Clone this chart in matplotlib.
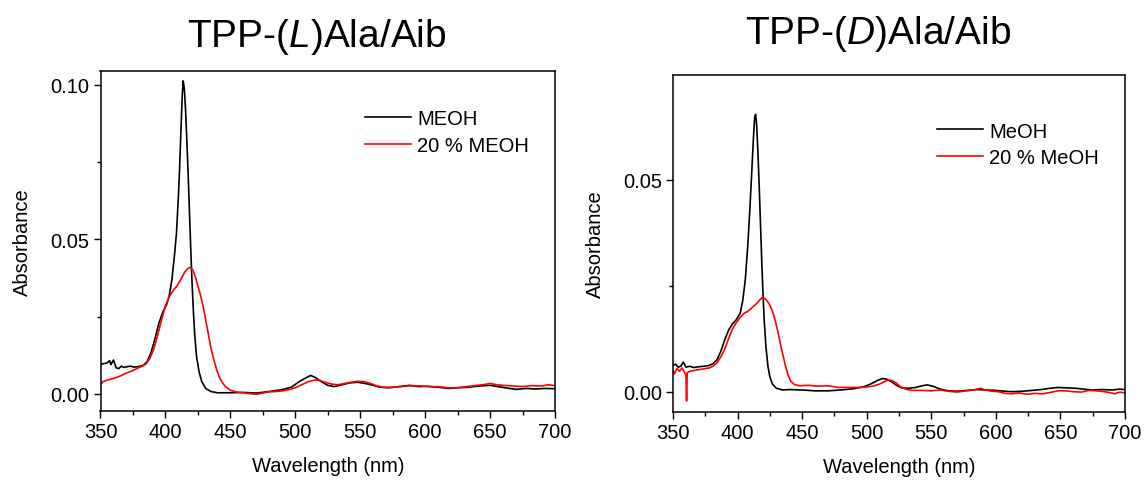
import matplotlib
matplotlib.use("Agg")
import matplotlib.pyplot as plt
from matplotlib.ticker import MultipleLocator

plt.rcParams["font.family"] = ["Liberation Sans", "DejaVu Sans"]
plt.rcParams["mathtext.fontset"] = "custom"
plt.rcParams["mathtext.rm"] = "Liberation Sans"
plt.rcParams["mathtext.it"] = "Liberation Sans:italic"

# Left panel: TPP-(L)Ala/Aib
wl_L_meoh = [350, 352, 355, 357, 358, 360, 362, 364, 366, 368, 370, 373, 376, 380, 383, 386, 389, 392,
             395, 398, 401, 403, 405, 407, 408.5, 410, 411, 412, 413, 413.7, 414.5, 415.5, 416.5, 417.5,
             418.5, 419.5, 420.5, 421.5, 422.5, 424, 426, 428, 431, 435, 440, 450, 460, 470, 480, 490,
             497, 503, 508, 512, 516, 520, 525, 530, 536, 542, 548, 554, 560, 565, 572, 580, 588, 595,
             602, 610, 618, 625, 633, 642, 650, 656, 662, 670, 678, 685, 692, 700]
abs_L_meoh = [0.0095, 0.0098, 0.0100, 0.0108, 0.0095, 0.0110, 0.0085, 0.0082, 0.0090, 0.0086, 0.0088,
              0.0090, 0.0087, 0.0089, 0.0093, 0.0105, 0.0135, 0.0180, 0.0230, 0.0265, 0.0290, 0.0320,
              0.0370, 0.0450, 0.0520, 0.0640, 0.0740, 0.0860, 0.0970, 0.1013, 0.0990, 0.0920, 0.0820,
              0.0710, 0.0590, 0.0470, 0.0360, 0.0270, 0.0195, 0.0120, 0.0070, 0.0040, 0.0018, 0.0008,
              0.0004, 0.0004, 0.0005, 0.0003, 0.0008, 0.0014, 0.0022, 0.0040, 0.0052, 0.0060, 0.0052,
              0.0040, 0.0028, 0.0024, 0.0030, 0.0036, 0.0038, 0.0034, 0.0028, 0.0022, 0.0020, 0.0024,
              0.0028, 0.0024, 0.0025, 0.0022, 0.0018, 0.0020, 0.0022, 0.0026, 0.0028, 0.0024, 0.0020,
              0.0015, 0.0018, 0.0016, 0.0018, 0.0017]

wl_L_20 = [350, 352, 355, 358, 361, 364, 367, 370, 374, 378, 382, 385, 388, 391, 394, 397, 400, 403,
           406, 409, 412, 415, 417, 419, 421, 423, 425, 427, 429, 431, 433, 435, 437, 439, 441, 443,
           446, 450, 455, 460, 465, 470, 475, 480, 485, 490, 495, 500, 505, 510, 515, 519, 523, 528,
           533, 538, 543, 548, 553, 558, 563, 568, 575, 582, 590, 597, 604, 610, 617, 624, 632, 640,
           646, 650, 655, 660, 668, 675, 682, 690, 695, 700]
abs_L_20 = [0.0030, 0.0040, 0.0045, 0.0048, 0.0052, 0.0056, 0.0062, 0.0068, 0.0074, 0.0082, 0.0090,
            0.0097, 0.0115, 0.0145, 0.0190, 0.0240, 0.0285, 0.0315, 0.0335, 0.0350, 0.0372, 0.0395,
            0.0405, 0.0410, 0.0402, 0.0380, 0.0350, 0.0320, 0.0285, 0.0240, 0.0195, 0.0150, 0.0115,
            0.0085, 0.0060, 0.0042, 0.0025, 0.0012, 0.0006, 0.0004, 0.0001, -0.0001, 0.0003, 0.0007,
            0.0008, 0.0010, 0.0014, 0.0020, 0.0030, 0.0040, 0.0045, 0.0044, 0.0038, 0.0032, 0.0030,
            0.0034, 0.0038, 0.0041, 0.0040, 0.0034, 0.0026, 0.0022, 0.0022, 0.0024, 0.0027, 0.0026,
            0.0023, 0.0024, 0.0020, 0.0020, 0.0024, 0.0028, 0.0031, 0.0034, 0.0030, 0.0028, 0.0026,
            0.0024, 0.0027, 0.0026, 0.0030, 0.0027]

# Right panel: TPP-(D)Ala/Aib
wl_D_meoh = [350, 352, 354, 356, 358, 360, 363, 366, 370, 374, 378, 381, 384, 387, 390, 393, 396, 399,
             402, 404, 406, 408, 409.5, 411, 412.3, 413.3, 414, 414.8, 415.7, 416.7, 417.7, 418.7,
             419.7, 420.7, 422, 423.5, 425, 427, 430, 435, 440, 450, 460, 470, 480, 490, 498, 503,
             508, 512, 515, 519, 523, 527, 532, 538, 543, 547, 552, 557, 563, 570, 578, 585, 592, 600,
             607, 613, 620, 628, 635, 642, 648, 655, 662, 668, 675, 682, 690, 696, 700]
abs_D_meoh = [0.0062, 0.0065, 0.0058, 0.0060, 0.0070, 0.0058, 0.0060, 0.0057, 0.0059, 0.0060, 0.0062,
              0.0066, 0.0075, 0.0095, 0.0122, 0.0145, 0.0160, 0.0170, 0.0185, 0.0215, 0.0265, 0.0350,
              0.0430, 0.0520, 0.0600, 0.0650, 0.0655, 0.0630, 0.0570, 0.0490, 0.0400, 0.0310, 0.0230,
              0.0165, 0.0105, 0.0060, 0.0035, 0.0018, 0.0008, 0.0004, 0.0005, 0.0004, 0.0002, 0.0002,
              0.0004, 0.0007, 0.0012, 0.0018, 0.0026, 0.0031, 0.0030, 0.0024, 0.0015, 0.0009, 0.0008,
              0.0010, 0.0014, 0.0016, 0.0012, 0.0006, 0.0002, 0.0001, 0.0003, 0.0005, 0.0004, 0.0003,
              0.0001, 0.0000, 0.0001, 0.0003, 0.0005, 0.0008, 0.0010, 0.0009, 0.0008, 0.0006, 0.0004,
              0.0005, 0.0004, 0.0006, 0.0005]

wl_D_20 = [350, 351, 353, 355, 357, 359, 360, 360.5, 361, 363, 366, 370, 374, 378, 381, 384, 387, 390,
           393, 396, 399, 402, 405, 408, 411, 414, 417, 419, 421, 423, 425, 427, 429, 431, 433, 435,
           437, 439, 441, 444, 448, 455, 462, 470, 478, 486, 494, 500, 505, 510, 514, 517, 520, 523,
           526, 530, 535, 542, 550, 557, 563, 570, 577, 583, 588, 592, 597, 602, 607, 612, 618, 624,
           630, 636, 642, 648, 654, 660, 666, 672, 678, 684, 688, 692, 696, 700]
abs_D_20 = [0.0050, 0.0042, 0.0055, 0.0048, 0.0056, 0.0045, 0.0040, -0.0022, 0.0045, 0.0048, 0.0050,
            0.0052, 0.0054, 0.0056, 0.0060, 0.0068, 0.0082, 0.0100, 0.0125, 0.0148, 0.0163, 0.0175,
            0.0185, 0.0190, 0.0198, 0.0206, 0.0216, 0.0222, 0.0220, 0.0214, 0.0204, 0.0190, 0.0170,
            0.0145, 0.0115, 0.0088, 0.0062, 0.0040, 0.0025, 0.0017, 0.0014, 0.0015, 0.0013, 0.0014,
            0.0010, 0.0010, 0.0010, 0.0011, 0.0013, 0.0018, 0.0024, 0.0028, 0.0026, 0.0020, 0.0012,
            0.0006, 0.0003, 0.0003, 0.0002, 0.0004, 0.0001, -0.0001, 0.0002, 0.0004, 0.0008, 0.0004,
            0.0001, 0.0000, -0.0004, -0.0005, -0.0003, -0.0006, -0.0004, -0.0005, -0.0002, 0.0002,
            0.0002, 0.0000, -0.0001, 0.0003, 0.0002, 0.0000, -0.0002, -0.0005, -0.0001, -0.0003]

W, H = 1146, 481
fig = plt.figure(figsize=(W / 100, H / 100), dpi=100)
fs = 14.5

axL = fig.add_axes([100.5 / W, (H - 412) / H, 454.5 / W, 340 / H])
axR = fig.add_axes([673 / W, (H - 413) / H, 452 / W, 337 / H])

axL.plot(wl_L_meoh, abs_L_meoh, color="black", lw=1.2, label="MEOH")
axL.plot(wl_L_20, abs_L_20, color="red", lw=1.2, label="20 % MEOH")
axR.plot(wl_D_meoh, abs_D_meoh, color="black", lw=1.2, label="MeOH")
axR.plot(wl_D_20, abs_D_20, color="red", lw=1.2, label="20 % MeOH")

axL.set_ylim(-0.0055, 0.1045)
axR.set_ylim(-0.0048, 0.0748)

for ax, lx, ly in [(axL, 0.581, 0.887), (axR, 0.583, 0.862)]:
    ax.set_xlim(350, 700)
    ax.xaxis.set_major_locator(MultipleLocator(50))
    ax.xaxis.set_minor_locator(MultipleLocator(25))
    ax.yaxis.set_major_locator(MultipleLocator(0.05))
    ax.yaxis.set_minor_locator(MultipleLocator(0.025))
    ax.yaxis.set_major_formatter(plt.FormatStrFormatter("%.2f"))
    ax.tick_params(which="major", direction="out", length=5, width=1, labelsize=fs, pad=3)
    ax.tick_params(which="minor", direction="out", length=3, width=1)
    for s in ax.spines.values():
        s.set_linewidth(1.1)
    ax.set_xlabel("Wavelength (nm)", fontsize=fs, labelpad=11)
    ax.set_ylabel("Absorbance", fontsize=fs, labelpad=13)
    ax.legend(loc="upper left", bbox_to_anchor=(lx, ly), frameon=False, fontsize=fs,
              handlelength=2.3, handletextpad=0.3, labelspacing=0.38, borderpad=0, borderaxespad=0)

fig.text(317 / W, (H - 47) / H, r"TPP-$\mathit{(L)}$Ala/Aib", fontsize=28, ha="center", va="baseline")
fig.text(878 / W, (H - 44) / H, r"TPP-($\mathit{D}$)Ala/Aib", fontsize=28, ha="center", va="baseline")

fig.savefig("out.png", dpi=100)
